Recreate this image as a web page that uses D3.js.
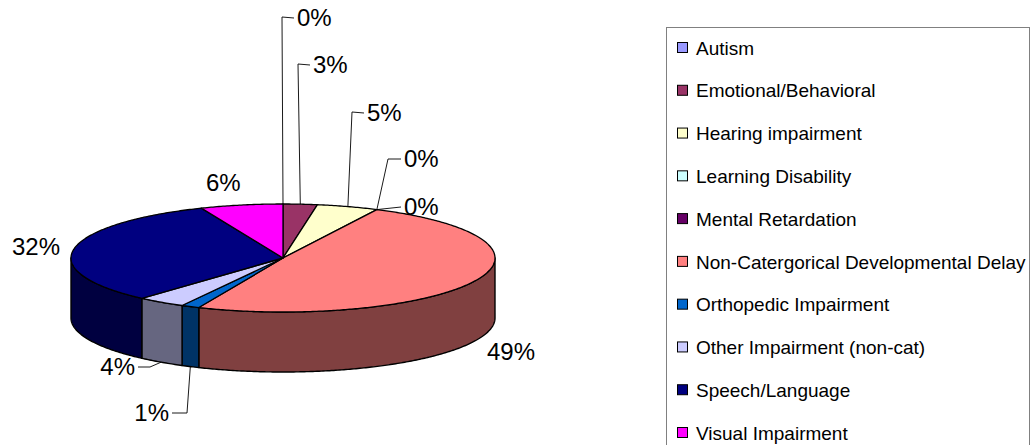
<!DOCTYPE html>
<html><head><meta charset="utf-8">
<script src="https://cdn.jsdelivr.net/npm/d3@7"></script>
<style>body{margin:0;background:#fff} svg{display:block} text{font-family:"Liberation Sans",Arial,sans-serif;fill:#000}</style>
</head><body><svg id="c" width="1031" height="445"></svg>
<script>
// ---- data ----
const categories = ["Autism","Emotional/Behavioral","Hearing impairment","Learning Disability","Mental Retardation","Non-Catergorical Developmental Delay","Orthopedic Impairment","Other Impairment (non-cat)","Speech/Language","Visual Impairment"];
const values = [0, 2.6, 4.7, 0, 0, 49.2, 1.4, 3.7, 32.1, 6.3];
const colors = ["#9999FF","#993366","#FFFFCC","#CCFFFF","#660066","#FF8080","#0066CC","#CCCCFF","#000080","#FF00FF"];

// ---- label layout (annotation placement) ----
// corner: leader line bend point; tx,ty: text anchor; side: "top" leader from top rim, "bottom" from side bottom, null = no leader
const labelLayout = [
  {side:"top",    corner:[282,17],  tx:297, ty:18,  anchor:"start"},
  {side:"top",    corner:[298,64],  tx:313, ty:65,  anchor:"start"},
  {side:"top",    corner:[352,112], tx:367, ty:113, anchor:"start"},
  {side:"top",    corner:[388,159], tx:404, ty:159, anchor:"start"},
  {side:"top",    corner:null,      tx:404, ty:207, anchor:"start"},
  {side:null,     corner:null,      tx:487, ty:352, anchor:"start"},
  {side:"bottom", corner:[187,413], tx:169, ty:413, anchor:"end"},
  {side:"bottom", corner:[150,367], tx:135, ty:367, anchor:"end"},
  {side:null,     corner:null,      tx:60,  ty:247, anchor:"end"},
  {side:null,     corner:null,      tx:206, ty:183, anchor:"start"}
];

const svg = d3.select("#c");
const cx = 283, cy = 258, rx = 212, ry = 54, depth = 60;
const color = d3.scaleOrdinal().domain(categories).range(colors);
const total = d3.sum(values);
const pct = d3.format(".0%");

const pie = d3.pie().sort(null).value(d => d.v).startAngle(0).endAngle(2*Math.PI);
const arcs = pie(categories.map((c,i) => ({c, v: values[i], i})));

function pt(a, dz) { return [cx + rx*Math.sin(a), cy - ry*Math.cos(a) + (dz||0)]; }
function arcPts(a0, a1, dz) {
  const n = Math.max(2, Math.ceil(Math.abs(a1-a0)/0.01));
  return d3.range(n+1).map(k => pt(a0 + (a1-a0)*k/n, dz));
}
const line = d3.line();

const gSide = svg.append("g"), gTop = svg.append("g");
arcs.forEach(d => {
  if (d.data.v <= 0) return;
  const base = d3.color(color(d.data.c));
  // visible side wall: portion of [a0,a1] within [pi/2, 3pi/2]
  const s0 = Math.max(d.startAngle, Math.PI/2), s1 = Math.min(d.endAngle, 3*Math.PI/2);
  if (s1 > s0) {
    const top = arcPts(s0, s1, 0), bot = arcPts(s1, s0, depth);
    const dark = d3.rgb(base.r*0.5, base.g*0.5, base.b*0.5);
    gSide.append("path").attr("d", line(top.concat(bot)) + "Z")
      .attr("fill", dark).attr("stroke", "#000").attr("stroke-width", 1.4).attr("stroke-linejoin","round");
  }
  const pts = [[cx,cy]].concat(arcPts(d.startAngle, d.endAngle, 0));
  gTop.append("path").attr("d", line(pts) + "Z")
    .attr("fill", base).attr("stroke", "#000").attr("stroke-width", 1.3).attr("stroke-linejoin","round");
});

// labels
const gLab = svg.append("g");
arcs.forEach((d,i) => {
  const L = labelLayout[i];
  const mid = (d.startAngle + d.endAngle)/2;
  if (L.side) {
    const anc = L.side === "top" ? pt(mid, 0) : pt(mid, depth);
    const gap = L.anchor === "start" ? -3 : 3;
    const ptsL = [anc];
    if (L.corner) ptsL.push(L.corner);
    ptsL.push([L.tx + gap, L.ty]);
    gLab.append("path").attr("d", line(ptsL)).attr("fill","none").attr("stroke","#000").attr("stroke-width",0.9);
  }
  gLab.append("text").attr("x", L.tx).attr("y", L.ty).attr("dy","0.35em")
    .attr("text-anchor", L.anchor).style("font-size","24px").text(pct(d.data.v/total));
});

// legend
const lg = svg.append("g");
lg.append("rect").attr("x",666.5).attr("y",27.5).attr("width",363).attr("height",440)
  .attr("fill","#fff").attr("stroke","#808080").attr("stroke-width",1);
const ly = d3.scalePoint().domain(categories).range([48, 433]);
categories.forEach(c => {
  lg.append("rect").attr("x",677.5).attr("y",ly(c)-5.5).attr("width",10).attr("height",10)
    .attr("fill",color(c)).attr("stroke","#000").attr("stroke-width",1);
  lg.append("text").attr("x",696).attr("y",ly(c)).attr("dy","0.35em").style("font-size","19px").text(c);
});
</script></body></html>
